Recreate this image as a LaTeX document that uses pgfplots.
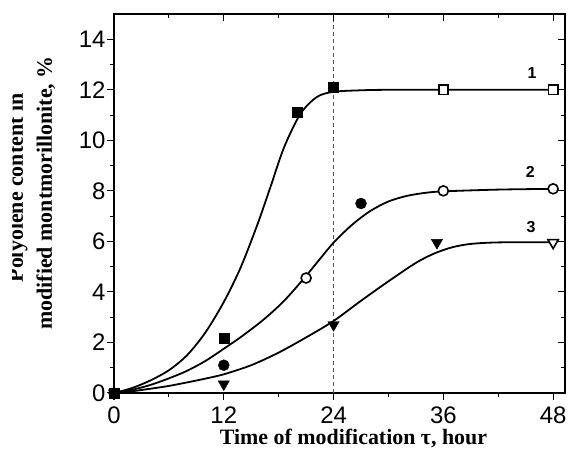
\documentclass[border=0pt]{standalone}
\usepackage{fontspec}
\setmainfont{Liberation Serif}
\newfontfamily\arial{Liberation Sans}
\usepackage{pgfplots}
\pgfplotsset{compat=1.18}

\begin{document}
\begin{tikzpicture}[x=1bp,y=1bp]
\pgfplotsset{
  base/.style={
    at={(0,0)}, anchor=south west, scale only axis,
    width=451bp, height=379bp,
    xmin=0, xmax=49.3, ymin=0, ymax=15,
    xtick={0,12,24,36,48}, minor x tick num=1,
    ytick={0,2,...,14}, minor y tick num=1,
    major tick length=7bp, minor tick length=4bp,
    every tick/.style={black, line width=1bp},
  }
}
% main axis: frame, outside ticks on left/bottom, data
\begin{axis}[base,
  tick pos=left, tick align=outside,
  axis line style={line width=1.2bp},
  ticklabel style={font=\arial\fontsize{24}{24}\selectfont},
  /pgf/number format/assume math mode=true,
  xticklabel style={yshift=-3bp},
  yticklabel style={xshift=2bp},
  clip=false,
]
% reference time
\addplot[gray!70!black, dashed, line width=0.9bp, dash pattern=on 4bp off 3bp]
  coordinates {(24,0) (24,15)};

% measured points, filled
\addplot[only marks, mark=square*, mark size=5bp, black]
  coordinates {(0,0) (12,2.15) (20,11.1) (24,12.1)};
\addplot[only marks, mark=*, mark size=5.5bp, black]
  coordinates {(0,0) (12,1.1) (27,7.5)};
\addplot[only marks, mark=triangle*, mark size=6.5bp, black,
  mark options={rotate=180}]
  coordinates {(0,0) (12,0.35) (24,2.7) (35.3,5.95)};

% measured points, open
\addplot[only marks, mark=square*, mark size=4.6bp, black, line width=1.6bp,
  mark options={fill=white}]
  coordinates {(36,12.0) (48,12.0)};
\addplot[only marks, mark=*, mark size=5bp, black, line width=1.6bp,
  mark options={fill=white}]
  coordinates {(21,4.55) (36,8.0) (48,8.08)};
\addplot[only marks, mark=triangle*, mark size=6bp, black, line width=1.6bp,
  mark options={rotate=180, fill=white}]
  coordinates {(48,5.95)};

% fitted curves
\addplot[black, line width=1.8bp, smooth, tension=0.5] coordinates {
  (0,0) (2,0.2) (4,0.5) (6,0.9) (8,1.5) (10,2.4) (12,3.6) (13.85,4.97)
  (15.7,6.69) (17.1,8.15) (18.6,9.73) (20.4,11.06) (22.2,11.72) (24,11.92)
  (27,11.98) (30,12.0) (36,12.0) (48,12.0)};
\addplot[black, line width=1.8bp, smooth, tension=0.5] coordinates {
  (0,0) (2,0.13) (4,0.32) (6,0.58) (8,0.88) (10,1.27) (12,1.75) (14,2.25)
  (16.4,2.92) (18.6,3.65) (20.8,4.55) (22.5,5.3) (24,5.95) (26,6.65)
  (28,7.2) (30,7.58) (32,7.8) (34,7.92) (36,7.98) (42,8.05) (48,8.08)};
\addplot[black, line width=1.8bp, smooth, tension=0.5] coordinates {
  (0,0) (2,0.07) (4,0.17) (6,0.28) (8,0.42) (10,0.57) (12,0.74) (15,1.1)
  (18,1.6) (21,2.2) (24,2.85) (27,3.65) (30,4.42) (33,5.15) (35,5.52)
  (37,5.77) (39,5.9) (42,5.96) (48,5.97)};

% curve numbers
\node[font=\arial\bfseries\fontsize{16}{16}\selectfont] at (axis cs:45.7,12.65) {1};
\node[font=\arial\bfseries\fontsize{16}{16}\selectfont] at (axis cs:45.5,8.74) {2};
\node[font=\arial\bfseries\fontsize{16}{16}\selectfont] at (axis cs:45.6,6.56) {3};
\end{axis}

% mirror ticks on top and right, pointing inwards
\begin{axis}[base,
  tick pos=right, tick align=inside,
  axis line style={draw=none},
  xticklabels={}, yticklabels={},
]
\end{axis}

% axis titles
\node[font=\bfseries\fontsize{22}{22}\selectfont, anchor=base]
  at (239.5,-52) {Time of modification τ, hour};
\node[font=\bfseries\fontsize{22}{22}\selectfont, anchor=base, rotate=90]
  at (-62,200) {modified montmorillonite, \%};
\begin{scope}
  \clip (-101,-57) rectangle (458,393);
  \node[font=\bfseries\fontsize{22}{22}\selectfont, anchor=base, rotate=90]
    at (-91,205) {Polyolene content in};
\end{scope}

\pgfresetboundingbox
\useasboundingbox (-114,-57) rectangle (458,393);
\end{tikzpicture}
\end{document}
